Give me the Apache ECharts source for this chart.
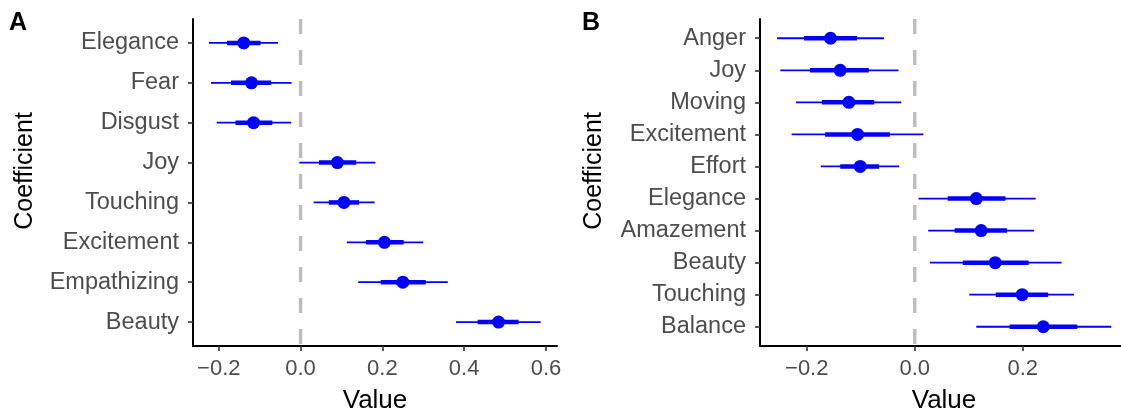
<!DOCTYPE html>
<html lang="en">
<head>
    <meta charset="utf-8">
    <title>Coefficient plots</title>
    <script src="https://cdn.jsdelivr.net/npm/echarts@6/dist/echarts.min.js"></script>
    <style>
        html, body { margin: 0; padding: 0; background: #ffffff; }
        #chart { width: 1121px; height: 412px; }
    </style>
</head>
<body>
    <div id="chart"></div>

    <script>
        // panel A
        const catsA = ['Elegance', 'Fear', 'Disgust', 'Joy', 'Touching', 'Excitement', 'Empathizing', 'Beauty'];
        const estA  = [-0.139, -0.120, -0.115, 0.090, 0.106, 0.205, 0.250, 0.484];
        const lo95A = [-0.224, -0.219, -0.205, -0.003, 0.032, 0.113, 0.141, 0.380];
        const hi95A = [-0.055, -0.022, -0.023, 0.183, 0.181, 0.300, 0.360, 0.587];
        const lo50A = [-0.180, -0.170, -0.159, 0.045, 0.069, 0.160, 0.196, 0.433];
        const hi50A = [-0.098, -0.072, -0.069, 0.136, 0.143, 0.252, 0.306, 0.533];

        // panel B
        const catsB = ['Anger', 'Joy', 'Moving', 'Excitement', 'Effort', 'Elegance', 'Amazement', 'Beauty', 'Touching', 'Balance'];
        const estB  = [-0.156, -0.138, -0.122, -0.106, -0.101, 0.114, 0.123, 0.149, 0.199, 0.238];
        const lo95B = [-0.255, -0.249, -0.220, -0.228, -0.174, 0.007, 0.025, 0.028, 0.101, 0.114];
        const hi95B = [-0.057, -0.030, -0.025, 0.016, -0.029, 0.224, 0.221, 0.272, 0.295, 0.364];
        const lo50B = [-0.205, -0.194, -0.172, -0.166, -0.138, 0.061, 0.074, 0.089, 0.150, 0.176];
        const hi50B = [-0.107, -0.085, -0.075, -0.046, -0.066, 0.168, 0.171, 0.211, 0.247, 0.301];

        const xTicks = [-0.2, 0, 0.2, 0.4, 0.6];

        const FONT = "'Liberation Sans', Arial, sans-serif";
        const BLUE = '#0000ff';

        function fmtX(v) {
            if (Math.abs(v) < 1e-9) return '0.0';
            return (v < 0 ? '\u2212' : '') + Math.abs(v).toFixed(1);
        }

        function makeX(idx, min, max) {
            return {
                type: 'value', gridIndex: idx, min: min, max: max,
                axisLine: { show: true, onZero: false, lineStyle: { color: '#000', width: 2 } },
                axisTick: { show: true, length: 5, customValues: xTicks, lineStyle: { color: '#333', width: 1.6 } },
                axisLabel: { customValues: xTicks, formatter: fmtX, color: '#4d4d4d', fontSize: 22, fontFamily: FONT, margin: 12 },
                splitLine: { show: false }
            };
        }

        function makeY(idx, cats) {
            const pos = cats.map((c, i) => i + 1);
            return {
                type: 'value', gridIndex: idx, inverse: true,
                min: 0.4, max: cats.length + 0.6,
                axisLine: { show: true, onZero: false, lineStyle: { color: '#000', width: 2 } },
                axisTick: { show: true, length: 5, customValues: pos, lineStyle: { color: '#333', width: 1.6 } },
                axisLabel: {
                    customValues: pos,
                    formatter: v => cats[Math.round(v) - 1],
                    color: '#4d4d4d', fontSize: 23.5, fontFamily: FONT, margin: 14,
                    padding: [3, 0, 0, 0]
                },
                splitLine: { show: false }
            };
        }

        function rangeSeries(idx, lo, hi, width) {
            return {
                type: 'custom', xAxisIndex: idx, yAxisIndex: idx, silent: true, z: 3,
                encode: { x: [0, 1], y: 2 },
                data: lo.map((v, i) => [v, hi[i], i + 1]),
                renderItem: (params, api) => {
                    const s = api.coord([api.value(0), api.value(2)]);
                    const e = api.coord([api.value(1), api.value(2)]);
                    return {
                        type: 'line',
                        shape: { x1: s[0], y1: s[1], x2: e[0], y2: e[1] },
                        style: { stroke: BLUE, lineWidth: width }
                    };
                }
            };
        }

        function panelSeries(idx, cats, est, lo95, hi95, lo50, hi50) {
            return [
                {
                    type: 'line', xAxisIndex: idx, yAxisIndex: idx, silent: true, z: 1,
                    symbol: 'none',
                    data: [[0, 0.4], [0, cats.length + 0.6]],
                    lineStyle: { color: '#bebebe', width: 3.5, type: [15, 16], cap: 'butt' }
                },
                rangeSeries(idx, lo95, hi95, 1.8),
                rangeSeries(idx, lo50, hi50, 4.5),
                {
                    type: 'scatter', xAxisIndex: idx, yAxisIndex: idx, silent: true, z: 4,
                    symbolSize: 13,
                    itemStyle: { color: BLUE, opacity: 1 },
                    data: est.map((v, i) => [v, i + 1])
                }
            ];
        }

        function txt(x, y, text, size, opts) {
            return {
                type: 'text', x: x, y: y, rotation: (opts && opts.rot) || 0,
                style: {
                    text: text, fill: '#000',
                    font: ((opts && opts.bold) ? 'bold ' : '') + size + 'px ' + FONT,
                    align: (opts && opts.align) || 'center', verticalAlign: 'middle'
                }
            };
        }

        const chart = echarts.init(document.getElementById('chart'));
        chart.setOption({
            backgroundColor: '#ffffff',
            animation: false,
            grid: [
                { left: 193, top: 19, width: 364, height: 327, outerBoundsMode: 'none' },
                { left: 760, top: 19, width: 368, height: 327, outerBoundsMode: 'none' }
            ],
            xAxis: [makeX(0, -0.263, 0.627), makeX(1, -0.2866, 0.395)],
            yAxis: [makeY(0, catsA), makeY(1, catsB)],
            series: [
                ...panelSeries(0, catsA, estA, lo95A, hi95A, lo50A, hi50A),
                ...panelSeries(1, catsB, estB, lo95B, hi95B, lo50B, hi50B)
            ],
            graphic: [
                txt(9, 23, 'A', 25, { bold: true, align: 'left' }),
                txt(582, 23, 'B', 25, { bold: true, align: 'left' }),
                txt(375, 401, 'Value', 26),
                txt(944, 401, 'Value', 26),
                txt(25, 171, 'Coefficient', 25, { rot: Math.PI / 2 }),
                txt(594, 171, 'Coefficient', 25, { rot: Math.PI / 2 })
            ]
        });
    </script>
</body>
</html>
